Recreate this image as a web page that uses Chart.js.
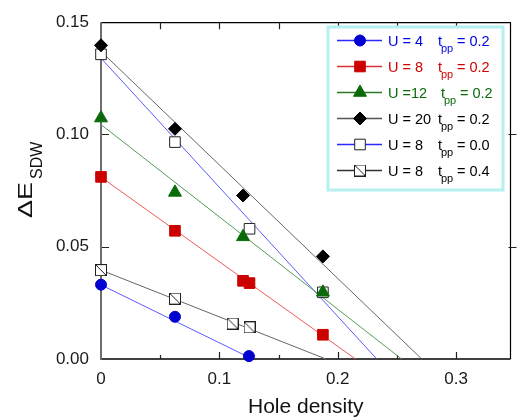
<!DOCTYPE html>
<html>
<head>
<meta charset="utf-8">
<script src="https://cdn.jsdelivr.net/npm/chart.js@4.4.0/dist/chart.umd.min.js"></script>
<style>
  html, body { margin: 0; padding: 0; background: #fff; }
  #wrap { width: 519px; height: 418px; }
</style>
</head>
<body>
<div id="wrap"><canvas id="gapChart" width="519" height="418"></canvas></div>
<script>
// hole density (x) and SDW energy gap (y) for each run
const u4Holes = [0, 0.0625, 0.125];
const u4Gap = [0.0331, 0.0188, 0.0013];
const u8Holes = [0, 0.0625, 0.12, 0.1255, 0.1875];
const u8Gap = [0.0811, 0.0571, 0.0348, 0.0338, 0.0108];
const u12Holes = [0, 0.0625, 0.12, 0.1875];
const u12Gap = [0.1073, 0.0742, 0.0544, 0.0297];
const u20Holes = [0, 0.0625, 0.12, 0.1875];
const u20Gap = [0.1397, 0.1025, 0.0728, 0.0457];
const tpp0Holes = [0, 0.0625, 0.1255, 0.1875];
const tpp0Gap = [0.1357, 0.0966, 0.058, 0.0297];
const tpp4Holes = [0, 0.0625, 0.1112, 0.1255];
const tpp4Gap = [0.0396, 0.0269, 0.0158, 0.0141];

// linear fits: value at zero density and density where gap closes
const fitIntercept = [0.033, 0.081, 0.1044, 0.137, 0.134, 0.0396];
const fitRoot = [0.128, 0.215, 0.254, 0.271, 0.233, 0.190];

const legendU = ['U = 4', 'U = 8', 'U =12', 'U = 20', 'U = 8', 'U = 8'];
const legendTpp = ['= 0.2', '= 0.2', '= 0.2', '= 0.2', '= 0.0', '= 0.4'];

const xTicks = [0, 0.1, 0.2, 0.3];
const yTicks = [0, 0.05, 0.10, 0.15];

const FONT = '"Liberation Sans", Arial, sans-serif';

function crossedBox(size) {
    const c = document.createElement('canvas');
    c.width = size; c.height = size;
    const g = c.getContext('2d');
    g.fillStyle = '#fff';
    g.fillRect(0.5, 0.5, size - 1, size - 1);
    g.strokeStyle = '#222';
    g.lineWidth = 1;
    g.strokeRect(0.5, 0.5, size - 1, size - 1);
    g.beginPath();
    g.moveTo(1, 1);
    g.lineTo(size - 1, size - 1);
    g.stroke();
    return c;
}

const series = [
    { xs: u4Holes, ys: u4Gap, style: 'circle', r: 5.5, fill: '#0000d0', edge: '#0000d0', line: '#5a5aff', key: '#2a2aff', text: '#0000e0' },
    { xs: u8Holes, ys: u8Gap, style: 'rect', r: 7.5, fill: '#cc0000', edge: '#cc0000', line: '#ee5a5a', key: '#dd3030', text: '#d00000' },
    { xs: u12Holes, ys: u12Gap, style: 'triangle', r: 7.5, fill: '#0a6a0a', edge: '#0a6a0a', line: '#5a9a5a', key: '#2a7a2a', text: '#0a6a0a' },
    { xs: u20Holes, ys: u20Gap, style: 'rectRot', r: 6.5, fill: '#000', edge: '#000', line: '#666', key: '#555', text: '#000' },
    { xs: tpp0Holes, ys: tpp0Gap, style: 'rect', r: 7.5, fill: '#fff', edge: '#222', line: '#5a5aff', key: '#2a2aff', text: '#000' },
    { xs: tpp4Holes, ys: tpp4Gap, style: crossedBox(12), r: 6, fill: '#fff', edge: '#222', line: '#666', key: '#333', text: '#000' }
];

const datasets = [];
series.forEach((s, i) => {
    datasets.push({
        type: 'scatter',
        data: s.xs.map((x, k) => ({ x: x, y: s.ys[k] })),
        pointStyle: s.style,
        pointRadius: s.r,
        pointHoverRadius: s.r,
        pointBackgroundColor: s.fill,
        pointBorderColor: s.edge,
        pointBorderWidth: 1,
        showLine: false,
        clip: false,
        order: 1
    });
    datasets.push({
        type: 'line',
        data: [{ x: 0, y: fitIntercept[i] }, { x: fitRoot[i], y: 0 }],
        borderColor: s.line,
        borderWidth: 1,
        pointRadius: 0,
        fill: false,
        clip: false,
        order: 2
    });
});

const framePlugin = {
    id: 'frame',
    beforeDatasetsDraw(chart) {
        const { ctx, chartArea: a, scales } = chart;
        ctx.save();
        // top, right, bottom
        ctx.strokeStyle = '#000';
        ctx.lineWidth = 1.2;
        ctx.beginPath();
        ctx.moveTo(a.left, a.top + 0.5);
        ctx.lineTo(a.right, a.top + 0.5);
        ctx.lineTo(a.right, a.bottom);
        ctx.stroke();
        ctx.lineWidth = 1.5;
        ctx.beginPath();
        ctx.moveTo(a.left, a.bottom);
        ctx.lineTo(a.right, a.bottom);
        ctx.stroke();
        // x ticks, inward, on bottom and top
        ctx.lineWidth = 1.2;
        ctx.strokeStyle = '#222';
        for (let v = 0.05; v < 0.34; v += 0.05) {
            const px = Math.round(scales.x.getPixelForValue(v)) + 0.5;
            const major = Math.abs(v * 10 - Math.round(v * 10)) < 1e-6;
            ctx.beginPath();
            ctx.moveTo(px, a.bottom);
            ctx.lineTo(px, a.bottom - (major ? 7 : 4));
            ctx.moveTo(px, a.top);
            ctx.lineTo(px, a.top + 7);
            ctx.stroke();
        }
        // y ticks
        [0.05, 0.10].forEach(v => {
            const py = Math.round(scales.y.getPixelForValue(v)) + 0.5;
            ctx.beginPath();
            ctx.moveTo(a.left, py);
            ctx.lineTo(a.left + 8, py);
            ctx.moveTo(a.right - 2, py);
            ctx.lineTo(a.right + 6, py);
            ctx.stroke();
        });
        // left axis, grey
        ctx.strokeStyle = '#6e6e6e';
        ctx.lineWidth = 2;
        ctx.beginPath();
        ctx.moveTo(a.left, a.top);
        ctx.lineTo(a.left, a.bottom + 1);
        ctx.stroke();
        ctx.restore();
    },
    afterDraw(chart) {
        const { ctx, chartArea: a } = chart;
        ctx.save();
        // x title
        ctx.fillStyle = '#111';
        ctx.font = '21px ' + FONT;
        ctx.textAlign = 'center';
        ctx.textBaseline = 'alphabetic';
        ctx.fillText('Hole density', (a.left + a.right) / 2, 413);
        // y title with subscript
        ctx.save();
        ctx.translate(32, 218);
        ctx.rotate(-Math.PI / 2);
        ctx.textAlign = 'left';
        ctx.save();
        ctx.scale(1.35, 1);
        ctx.font = '20px ' + FONT;
        ctx.fillText('\u0394E', 0, 0);
        const w = ctx.measureText('\u0394E').width * 1.35;
        ctx.restore();
        ctx.font = '16px ' + FONT;
        ctx.fillText('SDW', w + 3, 10);
        ctx.restore();

        // legend
        const bx = 328, by = 27, bw = 175, bh = 163;
        ctx.fillStyle = '#fff';
        ctx.fillRect(bx, by, bw, bh);
        ctx.strokeStyle = '#b6f0f0';
        ctx.lineWidth = 3;
        ctx.strokeRect(bx, by, bw, bh);
        series.forEach((s, i) => {
            const y = 40 + i * 26;
            ctx.strokeStyle = s.key;
            ctx.lineWidth = 1.3;
            ctx.beginPath();
            ctx.moveTo(337, y + 0.5);
            ctx.lineTo(382, y + 0.5);
            ctx.stroke();
            ctx.fillStyle = s.fill;
            ctx.strokeStyle = s.edge;
            ctx.lineWidth = 1;
            Chart.helpers.drawPoint(ctx, { pointStyle: s.style, radius: s.r, borderWidth: 1, rotation: 0 }, 360, y + 0.5);
            ctx.fillStyle = s.text;
            ctx.textAlign = 'left';
            ctx.textBaseline = 'alphabetic';
            ctx.font = '14.5px ' + FONT;
            ctx.fillText(legendU[i], 388, y + 5.5);
            const tx = i === 2 ? 441 : 438;
            ctx.fillText('t', tx, y + 5.5);
            ctx.fillText(legendTpp[i], tx + 19, y + 5.5);
            ctx.font = '11px ' + FONT;
            ctx.fillText('pp', tx + 3, y + 12);
        });
        ctx.restore();
    }
};

const tickFont = { family: FONT, size: 17 };

new Chart(document.getElementById('gapChart'), {
    data: { datasets: datasets },
    options: {
        responsive: false,
        animation: false,
        events: [],
        layout: { padding: { top: 16, right: 6, left: 0, bottom: 0 } },
        plugins: { legend: { display: false }, tooltip: { enabled: false } },
        scales: {
            x: {
                type: 'linear',
                min: 0,
                max: 0.346,
                grid: { display: false, drawTicks: false },
                border: { display: false },
                afterBuildTicks: (scale) => { scale.ticks = xTicks.map(v => ({ value: v })); },
                afterFit: (scale) => { scale.height = 59; },
                ticks: {
                    font: tickFont,
                    color: '#1a1a1a',
                    padding: 10,
                    maxRotation: 0,
                    callback: (v) => v === 0 ? '0' : v.toFixed(1)
                }
            },
            y: {
                type: 'linear',
                min: 0,
                max: 0.15,
                grid: { display: false, drawTicks: false },
                border: { display: false },
                afterBuildTicks: (scale) => { scale.ticks = yTicks.map(v => ({ value: v })); },
                afterFit: (scale) => { scale.width = 101; },
                ticks: {
                    font: tickFont,
                    color: '#1a1a1a',
                    padding: 12,
                    callback: (v) => v.toFixed(2)
                }
            }
        }
    },
    plugins: [framePlugin]
});
</script>
</body>
</html>
